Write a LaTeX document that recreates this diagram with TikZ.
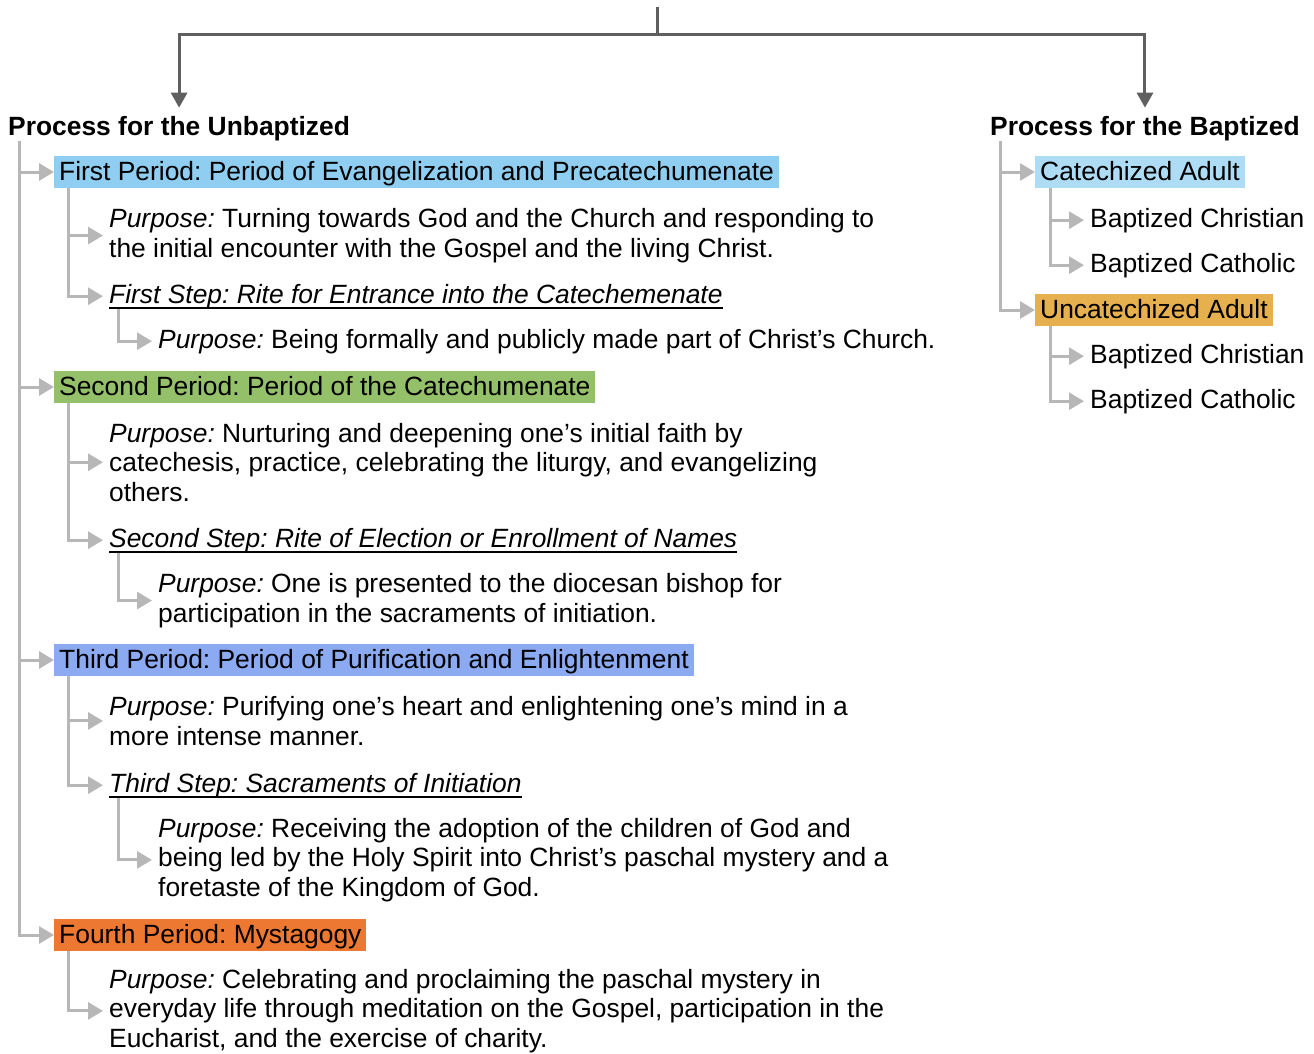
\documentclass[tikz,border=0pt]{standalone}
\usepackage{fontspec}
\setmainfont{Liberation Sans}
\usepackage{tikz}
\usetikzlibrary{arrows.meta}
\frenchspacing

\definecolor{darkline}{RGB}{95,95,95}
\definecolor{lightline}{RGB}{183,183,183}
\definecolor{firstblue}{RGB}{143,206,240}
\definecolor{secondgreen}{RGB}{148,192,106}
\definecolor{thirdblue}{RGB}{140,170,242}
\definecolor{fourthorange}{RGB}{237,120,50}
\definecolor{catblue}{RGB}{173,220,244}
\definecolor{uncatgold}{RGB}{230,176,78}

\newsavebox{\stepbox}
\newcommand{\stepul}[1]{\sbox{\stepbox}{\itshape #1}\rlap{\rule[-5.5pt]{\wd\stepbox}{2pt}}\usebox{\stepbox}}
\newcommand{\purp}{\textit{Purpose:} }

\tikzset{
	head/.style={anchor=base west, font=\fontsize{26.4}{29.3}\selectfont\bfseries},
	period/.style={anchor=base west, inner xsep=5pt, inner ysep=3.5pt, text height=20.5pt, text depth=4.5pt},
	txt/.style={anchor=base west, align=left},
	main/.style={draw=darkline, line width=3pt, -{Triangle[length=15pt,width=16pt]}},
	branch/.style={draw=lightline, line width=3pt, -{Triangle[length=15pt,width=17pt]}},
}

\begin{document}
\begin{tikzpicture}[x=1pt, y=-1pt, inner sep=0pt, font=\fontsize{26.4}{29.3}\selectfont]
		\useasboundingbox (0,0) rectangle (1314,1053);

		% Headings and top split
		\node[head] (uTitle) at (8,135) {Process for the Unbaptized};
		\node[head] (bTitle) at (990,135) {Process for the Baptized};
		\coordinate (root) at (657,7);
		\coordinate (split) at (657,34);
		\draw[main, shorten >=8pt] (root) -- (split) -| (uTitle.north);
		\draw[main, shorten >=8pt] (split) -| (bTitle.north);

		% Unbaptized: periods
		\node[period, fill=firstblue] (p1) at (54,180) {First Period: Period of Evangelization and Precatechumenate};
		\node[period, fill=secondgreen] (p2) at (54,395) {Second Period: Period of the Catechumenate};
		\node[period, fill=thirdblue] (p3) at (54,668) {Third Period: Period of Purification and Enlightenment};
		\node[period, fill=fourthorange] (p4) at (54,943) {Fourth Period: Mystagogy};

		% Unbaptized: purposes and steps (multi-line nodes sit on their last line)
		\node[txt] (p1a) at (109,257) {\purp Turning towards God and the Church and responding to\\the initial encounter with the Gospel and the living Christ.};
		\node[txt] (s1) at (109,303) {\stepul{First Step: Rite for Entrance into the Catechemenate}};
		\node[txt] (s1a) at (158,348) {\purp Being formally and publicly made part of Christ’s Church.};

		\node[txt] (p2a) at (109,501) {\purp Nurturing and deepening one’s initial faith by\\catechesis, practice, celebrating the liturgy, and evangelizing\\others.};
		\node[txt] (s2) at (109,547) {\stepul{Second Step: Rite of Election or Enrollment of Names}};
		\node[txt] (s2a) at (158,622) {\purp One is presented to the diocesan bishop for\\participation in the sacraments of initiation.};

		\node[txt] (p3a) at (109,745) {\purp Purifying one’s heart and enlightening one’s mind in a\\more intense manner.};
		\node[txt] (s3) at (109,792) {\stepul{Third Step: Sacraments of Initiation}};
		\node[txt] (s3a) at (158,896) {\purp Receiving the adoption of the children of God and\\being led by the Holy Spirit into Christ’s paschal mystery and a\\foretaste of the Kingdom of God.};

		\node[txt] (p4a) at (109,1047) {\purp Celebrating and proclaiming the paschal mystery in\\everyday life through meditation on the Gospel, participation in the\\Eucharist, and the exercise of charity.};

		% Unbaptized: tree lines
		\foreach \p in {p1,p2,p3,p4}
			\draw[branch] ([xshift=11pt]uTitle.south west) |- (\p.west);
		\foreach \p/\a/\s in {p1/p1a/s1,p2/p2a/s2,p3/p3a/s3}{
			\draw[branch, shorten >=6pt] ([xshift=14pt]\p.south west) |- (\a.west);
			\draw[branch, shorten >=6pt] ([xshift=14pt]\p.south west) |- (\s.west);
			\draw[branch, shorten >=6pt] ([xshift=9pt]\s.south west) |- (\s a.west);
		}
		\draw[branch, shorten >=6pt] ([xshift=14pt]p4.south west) |- (p4a.west);

		% Baptized side
		\node[period, fill=catblue] (c1) at (1035,180) {Catechized Adult};
		\node[period, fill=uncatgold] (c2) at (1035,318) {Uncatechized Adult};
		\node[txt] (c1a) at (1090,227) {Baptized Christian};
		\node[txt] (c1b) at (1090,272) {Baptized Catholic};
		\node[txt] (c2a) at (1090,363) {Baptized Christian};
		\node[txt] (c2b) at (1090,408) {Baptized Catholic};

		\draw[branch] ([xshift=10pt]bTitle.south west) |- (c1.west);
		\draw[branch] ([xshift=10pt]bTitle.south west) |- (c2.west);
		\foreach \c in {c1,c2}{
			\draw[branch, shorten >=6pt] ([xshift=15pt]\c.south west) |- (\c a.west);
			\draw[branch, shorten >=6pt] ([xshift=15pt]\c.south west) |- (\c b.west);
		}

	\end{tikzpicture}
\end{document}
